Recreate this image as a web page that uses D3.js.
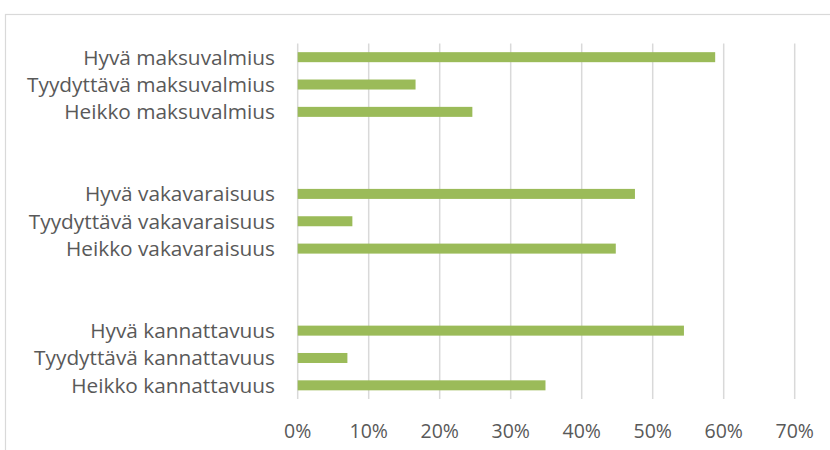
<!DOCTYPE html>
<html>
<head>
<meta charset="utf-8">
<script src="https://cdn.jsdelivr.net/npm/d3@7"></script>
<style>
  html, body { margin: 0; padding: 0; background: #ffffff; }
  svg { display: block; }
  text { font-family: "Open Sans", Lato, sans-serif; fill: #595959; }
</style>
</head>
<body>
<svg id="chart" width="830" height="450"></svg>
<script>
// Categories in top-to-bottom order, grouped by indicator
const groupMaksuvalmius = ["Hyvä maksuvalmius", "Tyydyttävä maksuvalmius", "Heikko maksuvalmius"];
const groupVakavaraisuus = ["Hyvä vakavaraisuus", "Tyydyttävä vakavaraisuus", "Heikko vakavaraisuus"];
const groupKannattavuus = ["Hyvä kannattavuus", "Tyydyttävä kannattavuus", "Heikko kannattavuus"];

// Share of respondents per category
const valuesMaksuvalmius = [0.588, 0.166, 0.246];
const valuesVakavaraisuus = [0.475, 0.077, 0.448];
const valuesKannattavuus = [0.544, 0.070, 0.349];

// Axis ticks
const tickValues = [0, 0.1, 0.2, 0.3, 0.4, 0.5, 0.6, 0.7];

// Build rows, with two empty slots between groups
const groups = [
  [groupMaksuvalmius, valuesMaksuvalmius],
  [groupVakavaraisuus, valuesVakavaraisuus],
  [groupKannattavuus, valuesKannattavuus]
];
const rows = [];
groups.forEach(([cats, vals], gi) => {
  cats.forEach((c, i) => rows.push({ key: c, label: c, value: vals[i] }));
  if (gi < groups.length - 1) {
    rows.push({ key: "gap" + gi + "a", label: "", value: null });
    rows.push({ key: "gap" + gi + "b", label: "", value: null });
  }
});

const svg = d3.select("#chart");

// Chart frame
svg.append("rect")
  .attr("x", 5.5).attr("y", 14.5)
  .attr("width", 840).attr("height", 460)
  .attr("fill", "none")
  .attr("stroke", "#d9d9d9")
  .attr("stroke-width", 1.2);

const x = d3.scaleLinear().domain([0, 0.7]).range([297.7, 794.7]);
const y = d3.scaleBand()
  .domain(rows.map(d => d.key))
  .range([43.5, 399])
  .paddingInner(0.634)
  .paddingOuter(0.317);

// Vertical gridlines
svg.append("g")
  .selectAll("line")
  .data(tickValues)
  .join("line")
  .attr("x1", d => x(d)).attr("x2", d => x(d))
  .attr("y1", 43.5).attr("y2", 399)
  .attr("stroke", "#d9d9d9")
  .attr("stroke-width", 1.5);

// Bars
svg.append("g")
  .selectAll("rect")
  .data(rows.filter(d => d.value !== null))
  .join("rect")
  .attr("x", x(0))
  .attr("y", d => y(d.key))
  .attr("width", d => x(d.value) - x(0))
  .attr("height", y.bandwidth())
  .attr("fill", "#9bbb59");

// Category labels
svg.append("g")
  .selectAll("text")
  .data(rows.filter(d => d.label))
  .join("text")
  .attr("x", 275)
  .attr("y", d => y(d.key) + y.bandwidth() / 2)
  .attr("dy", "0.36em")
  .attr("text-anchor", "end")
  .attr("font-size", 20.8)
  .text(d => d.label);

// X axis tick labels
const fmt = d3.format(".0%");
svg.append("g")
  .selectAll("text")
  .data(tickValues)
  .join("text")
  .attr("x", d => x(d))
  .attr("y", 438)
  .attr("text-anchor", "middle")
  .attr("font-size", 19.5)
  .text(d => fmt(d));
</script>
</body>
</html>
